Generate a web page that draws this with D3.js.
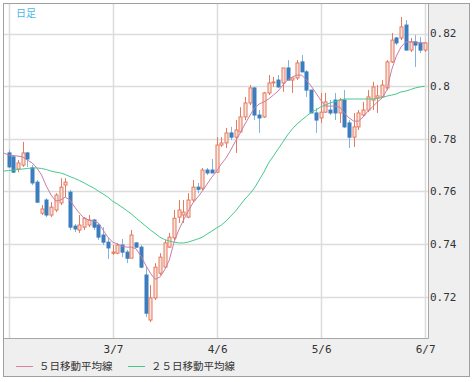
<!DOCTYPE html>
<html><head><meta charset="utf-8">
<script src="https://cdn.jsdelivr.net/npm/d3@7"></script>
<style>html,body{margin:0;padding:0;background:#fff;}svg{display:block;}</style>
</head><body>
<svg id="c" width="472" height="382"></svg>
<script>
const open = [.7746,.7731,.7685,.7700,.7746,.7689,.7635,.7517,.7567,.7510,
.7529,.7556,.7624,.7597,.7468,.7453,.7464,.7472,.7491,.7472,
.7434,.7407,.7365,.7365,.7396,.7369,.7346,.7404,.7388,.7282,
.7111,.7195,.7289,.7312,.7388,.7423,.7502,.7510,.7502,.7567,
.7616,.7612,.7681,.7681,.7673,.7776,.7784,.7822,.7806,.7826,
.7883,.7936,.7993,.7890,.7883,.7974,.8012,.8023,.8012,.8069,
.8023,.8031,.8092,.8054,.7985,.7898,.7879,.7901,.7909,.7947,
.7898,.7947,.7860,.7806,.7845,.7890,.7909,.7947,.7955,.7959,
.7993,.8092,.8183,.8183,.8232,.8137,.8168,.8164,.8137];
const close = [.7693,.7673,.7708,.7746,.7723,.7632,.7559,.7533,.7510,.7540,
.7586,.7616,.7635,.7464,.7457,.7472,.7498,.7491,.7464,.7426,
.7407,.7385,.7369,.7396,.7369,.7346,.7434,.7388,.7312,.7137,
.7195,.7312,.7350,.7404,.7426,.7498,.7529,.7521,.7567,.7616,
.7608,.7681,.7670,.7670,.7776,.7784,.7822,.7806,.7833,.7883,
.7936,.7993,.7890,.7879,.7974,.8012,.8016,.7997,.8069,.8023,
.8031,.8088,.8054,.7985,.7898,.7871,.7901,.7940,.7898,.7898,
.7947,.7845,.7806,.7845,.7898,.7909,.7959,.7997,.7963,.8004,
.8092,.8175,.8164,.8225,.8137,.8168,.8156,.8137,.8164];
const high = [.7757,.7738,.7719,.7788,.7750,.7700,.7643,.7548,.7574,.7559,
.7593,.7650,.7650,.7605,.7476,.7510,.7502,.7510,.7495,.7480,
.7464,.7423,.7396,.7404,.7419,.7377,.7453,.7407,.7396,.7312,
.7244,.7327,.7365,.7415,.7442,.7529,.7567,.7567,.7593,.7643,
.7632,.7689,.7689,.7723,.7806,.7806,.7841,.7845,.7871,.7920,
.7959,.8004,.7997,.7909,.7978,.8042,.8035,.8042,.8069,.8099,
.8031,.8099,.8118,.8061,.7985,.7917,.7974,.7974,.7947,.7974,
.7955,.7985,.7871,.7898,.7909,.7940,.7985,.8016,.8004,.8023,
.8099,.8202,.8187,.8263,.8251,.8183,.8194,.8187,.8168];
const low = [.7689,.7670,.7673,.7693,.7693,.7624,.7556,.7510,.7502,.7502,
.7521,.7548,.7578,.7453,.7445,.7442,.7453,.7464,.7453,.7415,
.7396,.7343,.7358,.7361,.7350,.7327,.7346,.7385,.7308,.7122,
.7103,.7187,.7282,.7312,.7385,.7415,.7480,.7480,.7498,.7559,
.7593,.7605,.7662,.7670,.7670,.7769,.7765,.7795,.7746,.7822,
.7871,.7928,.7871,.7822,.7879,.7966,.7997,.7993,.7978,.8023,
.7974,.8023,.8054,.7959,.7898,.7822,.7860,.7898,.7890,.7871,
.7860,.7841,.7765,.7769,.7833,.7883,.7901,.7909,.7898,.7955,
.7985,.8088,.8156,.8175,.8137,.8130,.8073,.8126,.8130];
// moving averages, first value is the day before the first visible candle
const ma5 = [.7746,
.7738,.7736,.7734,.7731,.7719,.7708,.7689,.7662,.7620,.7586,
.7563,.7567,.7578,.7567,.7540,.7517,.7498,.7491,.7487,.7480,
.7453,.7426,.7407,.7400,.7392,.7388,.7388,.7381,.7354,.7320,
.7289,.7266,.7274,.7301,.7339,.7407,.7453,.7491,.7525,.7556,
.7578,.7601,.7628,.7654,.7677,.7704,.7727,.7757,.7791,.7822,
.7856,.7887,.7917,.7932,.7940,.7951,.7966,.7981,.8004,.8023,
.8035,.8042,.8042,.8023,.8000,.7974,.7947,.7924,.7924,.7924,
.7921,.7898,.7879,.7867,.7867,.7883,.7905,.7921,.7940,.7955,
.7985,.8061,.8114,.8149,.8168,.8168,.8168,.8164,.8164];
const ma25 = [.7677,
.7679,.7681,.7683,.7685,.7687,.7689,.7689,.7687,.7683,.7677,
.7673,.7670,.7664,.7656,.7649,.7641,.7632,.7622,.7613,.7601,
.7590,.7578,.7563,.7552,.7540,.7527,.7514,.7498,.7483,.7468,
.7453,.7440,.7426,.7417,.7411,.7407,.7404,.7404,.7407,.7413,
.7419,.7426,.7438,.7449,.7461,.7472,.7487,.7506,.7525,.7548,
.7571,.7590,.7613,.7643,.7673,.7708,.7734,.7761,.7787,.7814,
.7837,.7856,.7871,.7886,.7900,.7909,.7921,.7928,.7936,.7941,
.7947,.7951,.7951,.7951,.7951,.7951,.7951,.7951,.7953,.7957,
.7962,.7966,.7970,.7978,.7981,.7987,.7993,.7997,.8000];
const gridIdx = [0, 22, 44, 66, 88];
const tickIdx = [22, 44, 66, 88];
const tickLabels = ["3/7", "4/6", "5/6", "6/7"];
const yTicks = [0.72, 0.74, 0.76, 0.78, 0.80, 0.82];
const yTickLabels = ["0.72", "0.74", "0.76", "0.78", "0.8", "0.82"];
const legendNames = ["５日移動平均線", "２５日移動平均線"];
const title = "日足";

const svg = d3.select("#c");
const P = {l: 4, t: 4, r: 428, b: 338};
const x = d3.scaleLinear().domain([0, 88]).range([8.5, 424.7]);
const y = d3.scaleLinear().domain([0.72, 0.82]).range([296.6, 33.5]);

// outer frame
svg.append("rect").attr("x", 3.5).attr("y", 3.5).attr("width", 466).attr("height", 373)
  .attr("fill", "#efefef").attr("stroke", "#a0a0a0");
svg.append("rect").attr("x", P.l).attr("y", P.t).attr("width", P.r - P.l).attr("height", P.b - P.t)
  .attr("fill", "#fff");

const g = svg.append("g");
// grid
g.selectAll("line.hg").data(yTicks).join("line")
  .attr("x1", P.l).attr("x2", P.r).attr("y1", d => Math.round(y(d)) + 0.5).attr("y2", d => Math.round(y(d)) + 0.5)
  .attr("stroke", "#dcdcdc").attr("stroke-width", 1.5);
g.selectAll("line.vg").data(gridIdx).join("line")
  .attr("y1", P.t).attr("y2", P.b).attr("x1", d => Math.round(x(d)) + 0.5).attr("x2", d => Math.round(x(d)) + 0.5)
  .attr("stroke", "#dcdcdc").attr("stroke-width", 1.5);

svg.append("clipPath").attr("id", "pc").append("rect")
  .attr("x", P.l).attr("y", P.t).attr("width", P.r - P.l).attr("height", P.b - P.t);
const pg = svg.append("g").attr("clip-path", "url(#pc)");

const idx = d3.range(open.length);
const upCol = "#e47a5e", upFill = "#fbe2da", dnCol = "#3b7dbd", dnWick = "#86b3dc";
pg.selectAll("line.wick").data(idx).join("line")
  .attr("x1", i => Math.round(x(i)) + 0.5).attr("x2", i => Math.round(x(i)) + 0.5)
  .attr("y1", i => y(high[i])).attr("y2", i => y(low[i]))
  .attr("stroke", i => close[i] >= open[i] ? upCol : dnWick).attr("stroke-width", 1);
pg.selectAll("rect.body").data(idx).join("rect")
  .attr("x", i => Math.round(x(i)) - 1)
  .attr("width", 3)
  .attr("y", i => y(Math.max(open[i], close[i])))
  .attr("height", i => Math.max(1, Math.abs(y(open[i]) - y(close[i]))))
  .attr("fill", i => close[i] >= open[i] ? upFill : dnCol)
  .attr("stroke", i => close[i] >= open[i] ? upCol : dnCol)
  .attr("stroke-width", 1);

const line = d3.line().x((d, k) => x(k - 1)).y(d => y(d)).curve(d3.curveLinear);
pg.append("path").attr("d", line(ma25)).attr("fill", "none").attr("stroke", "#45c98b").attr("stroke-width", 1);
pg.append("path").attr("d", line(ma5)).attr("fill", "none").attr("stroke", "#c97ea6").attr("stroke-width", 1);

// plot border right/bottom
svg.append("line").attr("x1", P.r + 0.5).attr("x2", P.r + 0.5).attr("y1", P.t).attr("y2", P.b + 0.5).attr("stroke", "#a8a8a8");
svg.append("line").attr("x1", P.l).attr("x2", P.r + 0.5).attr("y1", P.b + 0.5).attr("y2", P.b + 0.5).attr("stroke", "#a8a8a8");

// y labels
svg.selectAll("text.yl").data(yTicks).join("text")
  .attr("x", 430).attr("y", d => y(d)).attr("dy", "0.36em")
  .attr("font-family", "DejaVu Sans Mono, monospace").attr("font-size", 11).attr("fill", "#333")
  .text((d, k) => yTickLabels[k]);
// x labels
svg.selectAll("text.xl").data(tickIdx).join("text")
  .attr("x", d => x(d) + 1).attr("y", 349).attr("dy", "0.36em").attr("text-anchor", "middle")
  .attr("font-family", "DejaVu Sans Mono, monospace").attr("font-size", 11).attr("fill", "#333")
  .text((d, k) => tickLabels[k]);

// title
svg.append("text").attr("x", 16).attr("y", 13).attr("dy", "0.36em")
  .attr("font-family", "Noto Sans CJK JP").attr("font-size", 10).attr("fill", "#4ab8e6").text(title);

// legend
const lg = [{c: "#d9819f", x: 16}, {c: "#45c98b", x: 128}];
lg.forEach((d, k) => {
  svg.append("line").attr("x1", d.x).attr("x2", d.x + 17).attr("y1", 366.5).attr("y2", 366.5).attr("stroke", d.c);
  svg.append("text").attr("x", d.x + 23).attr("y", 366).attr("dy", "0.36em")
    .attr("font-family", "Noto Sans CJK JP").attr("font-size", 10.5).attr("fill", "#333")
    .text(legendNames[k]);
});
</script>
</body></html>
